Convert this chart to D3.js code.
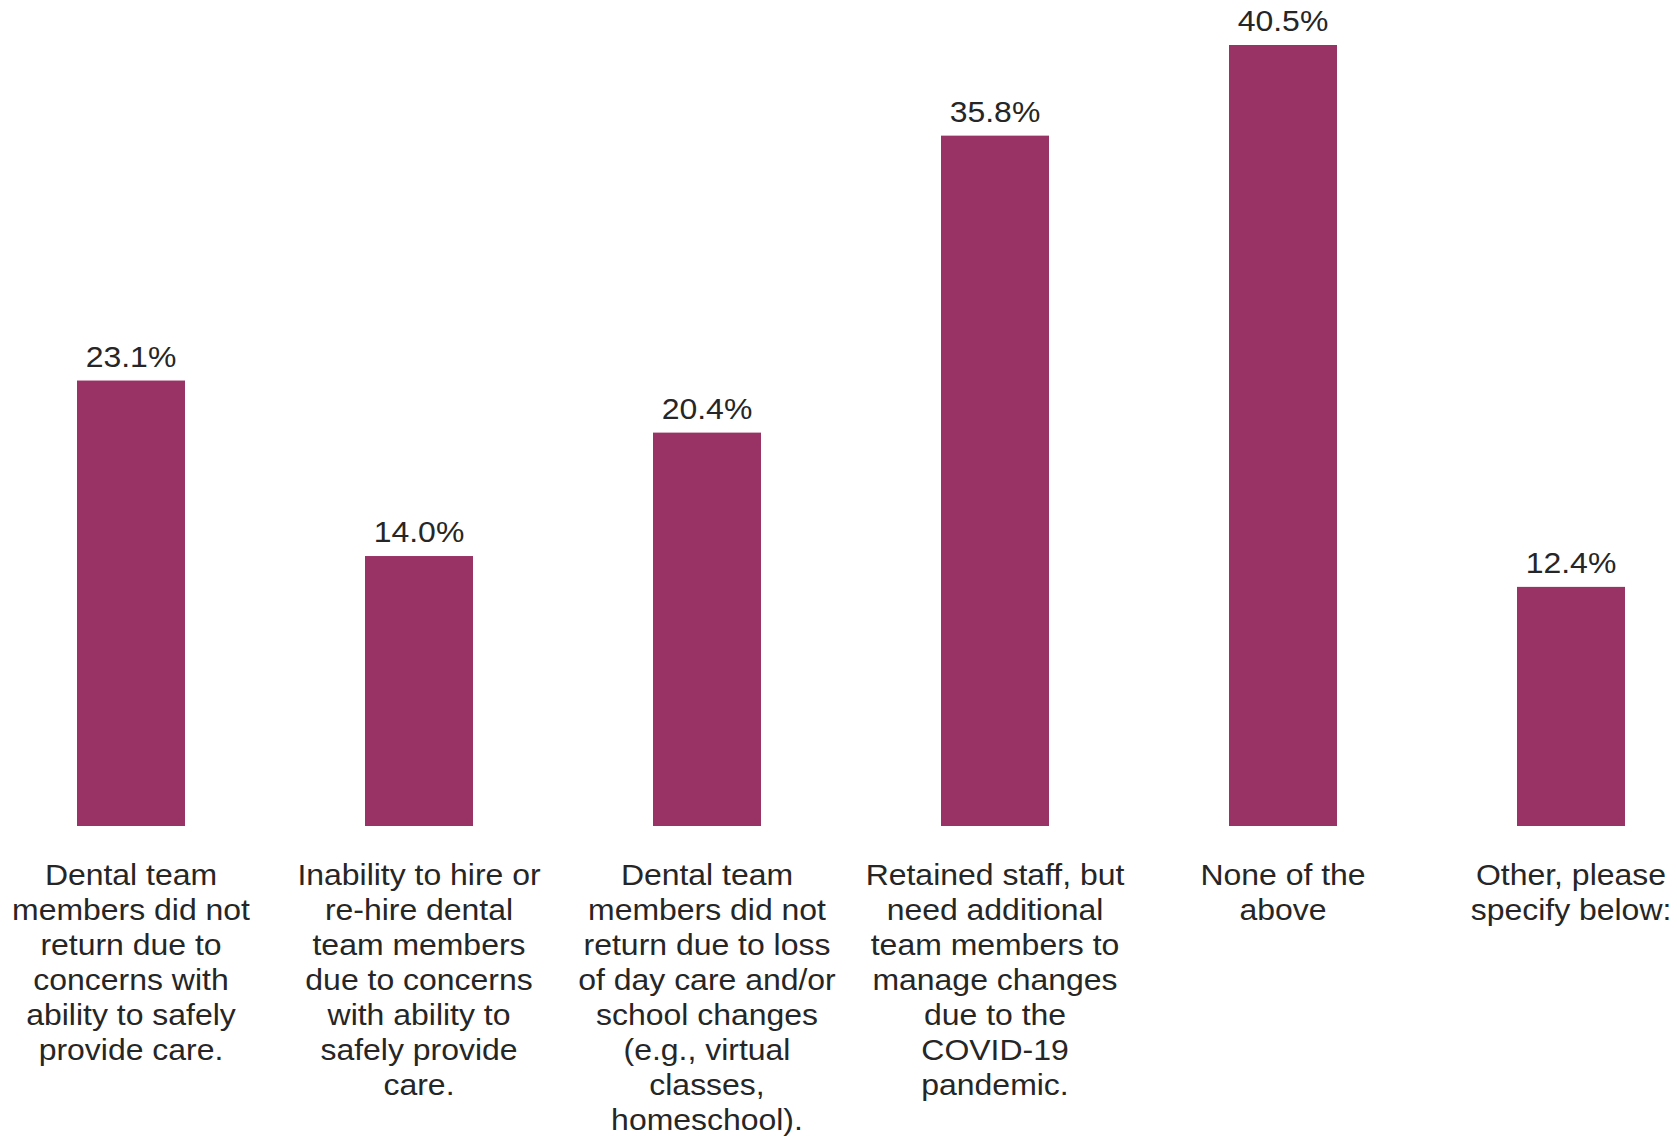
<!DOCTYPE html>
<html>
<head>
<meta charset="utf-8">
<script src="https://cdn.jsdelivr.net/npm/d3@7"></script>
<style>
  html, body { margin: 0; padding: 0; background: #ffffff; }
  svg { display: block; }
  text { font-family: "Liberation Sans", Arial, sans-serif; fill: #262626; }
</style>
</head>
<body>
<div id="chart"></div>
<script>
const categories = [
  "Dental team members did not return due to concerns with ability to safely provide care.",
  "Inability to hire or re-hire dental team members due to concerns with ability to safely provide care.",
  "Dental team members did not return due to loss of day care and/or school changes (e.g., virtual classes, homeschool).",
  "Retained staff, but need additional team members to manage changes due to the COVID-19 pandemic.",
  "None of the above",
  "Other, please specify below:"
];

// wrapped lines as they appear under each bar
const categoryLines = [
  ["Dental team", "members did not", "return due to", "concerns with", "ability to safely", "provide care."],
  ["Inability to hire or", "re-hire dental", "team members", "due to concerns", "with ability to", "safely provide", "care."],
  ["Dental team", "members did not", "return due to loss", "of day care and/or", "school changes", "(e.g., virtual", "classes,", "homeschool)."],
  ["Retained staff, but", "need additional", "team members to", "manage changes", "due to the", "COVID-19", "pandemic."],
  ["None of the", "above"],
  ["Other, please", "specify below:"]
];

const values = [23.1, 14.0, 20.4, 35.8, 40.5, 12.4];

const width = 1677;
const height = 1137;
const baseline = 826;
const stretch = 1.065; // text in the original is slightly wide

const svg = d3.select("#chart")
  .append("svg")
  .attr("width", width)
  .attr("height", height);

const x = d3.scaleBand()
  .domain(categories)
  .range([77, 1625])
  .paddingInner(0.625)
  .paddingOuter(0);

const y = d3.scaleLinear()
  .domain([0, 40.5])
  .range([baseline, 45]);

const rows = categories.map((c, i) => ({ category: c, value: values[i], lines: categoryLines[i] }));
const cx = d => x(d.category) + x.bandwidth() / 2;

svg.selectAll(".bar")
  .data(rows)
  .enter()
  .append("rect")
  .attr("class", "bar")
  .attr("x", d => x(d.category))
  .attr("y", d => y(d.value))
  .attr("width", x.bandwidth())
  .attr("height", d => baseline - y(d.value))
  .attr("fill", "#993366");

svg.selectAll(".value-label")
  .data(rows)
  .enter()
  .append("text")
  .attr("class", "value-label")
  .attr("transform", d => `translate(${cx(d)}, ${y(d.value) - 14}) scale(${stretch}, 1)`)
  .attr("text-anchor", "middle")
  .attr("font-size", "30px")
  .text(d => d.value.toFixed(1) + "%");

const labels = svg.selectAll(".cat-label")
  .data(rows)
  .enter()
  .append("text")
  .attr("class", "cat-label")
  .attr("transform", d => `translate(${cx(d)}, 885) scale(${stretch}, 1)`)
  .attr("text-anchor", "middle")
  .attr("font-size", "30px");

labels.selectAll("tspan")
  .data(d => d.lines)
  .enter()
  .append("tspan")
  .attr("x", 0)
  .attr("y", (d, i) => i * 35)
  .text(d => d);
</script>
</body>
</html>
